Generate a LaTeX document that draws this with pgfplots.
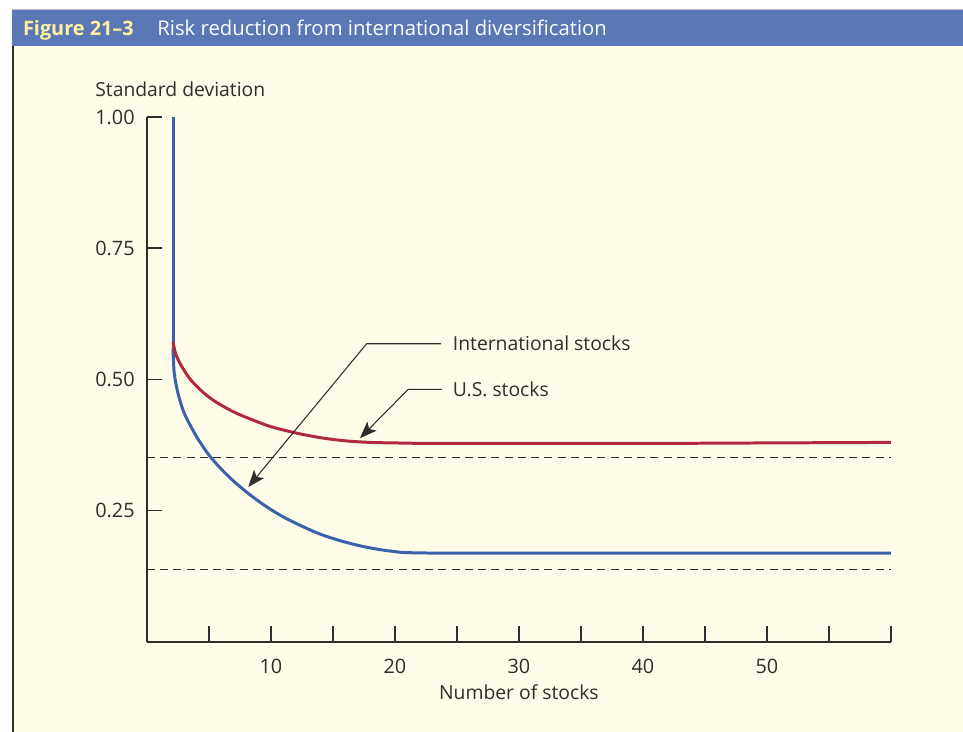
\documentclass[border=0pt]{standalone}
\usepackage{fontspec}
\setmainfont{Open Sans}
\usepackage{pgfplots}
\pgfplotsset{compat=1.18}
\usetikzlibrary{arrows.meta}

\definecolor{barblue}{HTML}{5A78B5}
\definecolor{cream}{HTML}{FEFBE8}
\definecolor{figyellow}{HTML}{FFF29E}
\definecolor{usred}{HTML}{B02A3B}
\definecolor{intblue}{HTML}{3A62AB}
\definecolor{ink}{HTML}{2E2E2E}

\begin{document}
\begin{tikzpicture}
% frame, header bar and titles (1 px = 0.02 cm, y downwards)
\begin{scope}[x=0.02cm, y=-0.02cm]
  \path[use as bounding box] (0,0) rectangle (963,732);
  \fill[white] (0,0) rectangle (963,732);
  \fill[cream] (12,46) rectangle (963,732);
  \fill[barblue] (12,9.5) rectangle (963,46);
  \draw[gray!50, line width=0.5pt] (12,9.5) -- (963,9.5);
  \draw[ink, line width=1.1pt] (12.8,46) -- (12.8,732);
  \node[anchor=base west, inner sep=0pt, text=figyellow,
        font=\fontsize{11.3}{13}\selectfont\bfseries] at (22.7,36) {Figure 21–3};
  \node[anchor=base west, inner sep=0pt, text=white,
        font=\fontsize{11.55}{13}\selectfont] at (157,36) {Risk reduction from international diversification};
  \node[anchor=base west, inner sep=0pt, text=ink,
        font=\fontsize{11}{13}\selectfont] at (95,96.5) {Standard deviation};
\end{scope}

\begin{axis}[
  at={(2.94cm,-12.84cm)}, anchor=south west,
  scale only axis, width=14.88cm, height=10.5cm,
  xmin=0, xmax=60, ymin=0, ymax=1,
  axis x line*=bottom, axis y line*=left,
  axis line style={ink, line width=0.8pt, -},
  tick align=inside, major tick length=0.31cm,
  tick style={ink, line width=0.8pt},
  xtick={5,10,...,60},
  xticklabels={{},10,{},20,{},30,{},40,{},50,{},{}},
  ytick={0.25,0.5,0.75,1},
  /pgf/number format/assume math mode=true,
  ticklabel style={font=\fontsize{11.3}{13}\selectfont, text=ink},
  yticklabel style={/pgf/number format/fixed, /pgf/number format/fixed zerofill,
                    /pgf/number format/precision=2,
                    anchor=east, inner sep=0pt, xshift=-0.24cm},
  xticklabel style={anchor=base, inner sep=0pt, yshift=-0.64cm},
  xlabel={Number of stocks},
  xlabel style={at={(axis description cs:0.5,0)}, anchor=base, inner sep=0pt,
                yshift=-1.16cm, font=\fontsize{11}{13}\selectfont, text=ink},
  clip=false,
]
% dashed reference lines
\addplot[ink, line width=0.8pt, dash pattern=on 0.16cm off 0.105cm]
  coordinates {(0,0.351) (60,0.351)};
\addplot[ink, line width=0.8pt, dash pattern=on 0.16cm off 0.105cm]
  coordinates {(0,0.138) (60,0.138)};

% international stocks
\addplot[intblue, line width=1.7pt] coordinates {(2.1,1.0) (2.1,0.56)};
\addplot[intblue, line width=1.7pt, smooth] coordinates {
  (2.1,0.56) (2.2,0.512) (2.5,0.474) (3,0.436) (4,0.391) (5,0.356)
  (6,0.329) (7,0.306) (8,0.286) (9,0.268) (10,0.252) (11,0.238)
  (12,0.226) (13,0.215) (14,0.205) (15,0.197) (16,0.190) (17,0.184)
  (18,0.179) (19,0.175) (20,0.172) (21,0.170) (25,0.169) (40,0.169) (60,0.169)};

% U.S. stocks
\addplot[usred, line width=1.7pt, smooth] coordinates {
  (2.1,0.572) (2.3,0.550) (2.7,0.529) (3.5,0.500) (4.5,0.476) (5.5,0.458)
  (7,0.438) (8.5,0.423) (10,0.410) (12,0.398) (14,0.389) (16,0.383)
  (18,0.380) (20,0.379) (23,0.378) (30,0.378) (40,0.378) (50,0.379) (60,0.380)};

% callouts
\draw[ink, line width=0.6pt, -{Stealth[length=0.34cm, width=0.26cm, inset=0.08cm]}]
  (axis cs:23.71,0.568) -- (axis cs:17.72,0.568) -- (axis cs:8.17,0.295);
\draw[ink, line width=0.6pt, -{Stealth[length=0.34cm, width=0.26cm, inset=0.08cm]}]
  (axis cs:23.79,0.481) -- (axis cs:21.07,0.481) -- (axis cs:17.18,0.388);
\node[anchor=west, inner sep=0pt, text=ink, font=\fontsize{11}{13}\selectfont]
  at (axis cs:24.65,0.568) {International stocks};
\node[anchor=west, inner sep=0pt, text=ink, font=\fontsize{11}{13}\selectfont]
  at (axis cs:24.65,0.481) {U.S. stocks};
\end{axis}
\end{tikzpicture}
\end{document}
